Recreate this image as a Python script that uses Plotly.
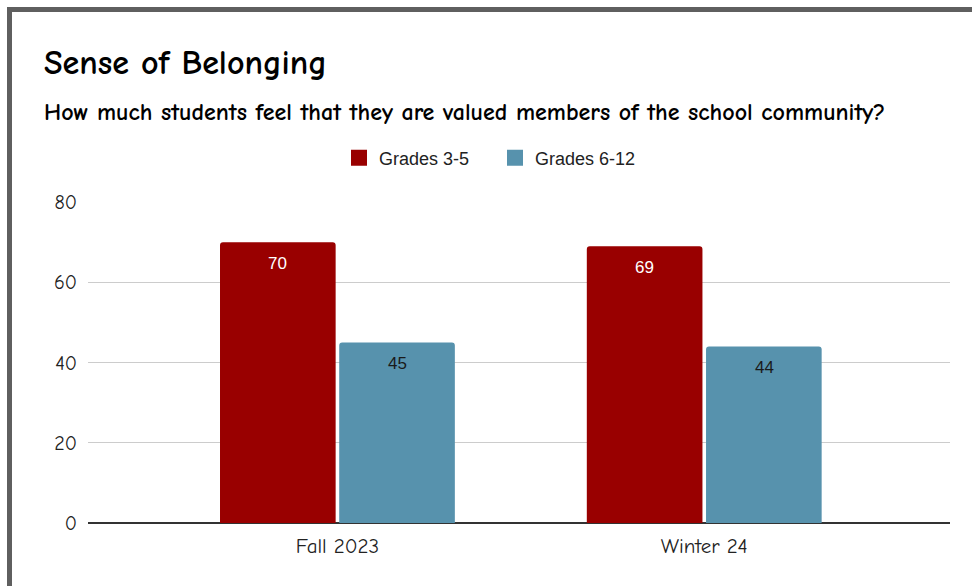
import plotly.graph_objects as go

categories = ["Fall 2023", "Winter 24"]
series_names = ["Grades 3-5", "Grades 6-12"]
grades_3_5 = [70, 69]
grades_6_12 = [45, 44]
colors = ["#990000", "#5792ad"]
label_colors = ["#ffffff", "#1a1a1a"]

title_text = "Sense of Belonging"
subtitle_text = "How much students feel that they are valued members of the school community?"

W, H = 972, 586
L, R, T, B = 88, 22, 202, 63
pw, ph = W - L - R, H - T - B

def px_x(x):
    return (x - L) / pw

def px_y(y):
    return (H - B - y) / ph

comic = "Comic Sans MS, Comic Neue, DejaVu Sans, sans-serif"
arial = "Arial, Liberation Sans, sans-serif"

fig = go.Figure()
annotations = []
label_shift = [-60, 60]
for i, (name, vals, c, lc) in enumerate(zip(series_names, [grades_3_5, grades_6_12], colors, label_colors)):
    fig.add_trace(go.Bar(
        name=name, x=categories, y=vals, marker=dict(color=c, line=dict(width=0)),
        showlegend=False, legendgroup=name,
    ))
    # legend entry with a larger square swatch
    fig.add_trace(go.Scatter(
        name=name, x=[None], y=[None], mode="markers", legendgroup=name,
        marker=dict(symbol="square", size=20, color=c), showlegend=True,
    ))
    for cat, v in zip(categories, vals):
        annotations.append(dict(
            x=cat, y=v, xref="x", yref="y", text=str(v), showarrow=False,
            xshift=label_shift[i], yshift=-21, yanchor="middle", xanchor="center",
            font=dict(family=arial, size=17, color=lc),
        ))

annotations += [
    dict(text="<b>" + title_text + "</b>", xref="paper", yref="paper", x=px_x(42), y=px_y(63),
         xanchor="left", yanchor="middle", showarrow=False,
         font=dict(family=comic, size=34, color="#000000")),
    dict(text="<b>" + subtitle_text + "</b>", xref="paper", yref="paper", x=px_x(42), y=px_y(112),
         xanchor="left", yanchor="middle", showarrow=False,
         font=dict(family=comic, size=24, color="#000000")),
]

fig.update_layout(
    width=W, height=H,
    margin=dict(l=L, r=R, t=T, b=B),
    paper_bgcolor="white", plot_bgcolor="white",
    barmode="group", bargap=0.35, bargroupgap=0.03, barcornerradius=3,
    showlegend=True,
    legend=dict(orientation="h", x=px_x(339), xanchor="left", y=px_y(158), yanchor="middle",
                font=dict(family=arial, size=18, color="#222222"),
                entrywidth=111, entrywidthmode="pixels", itemsizing="trace",
                bgcolor="rgba(0,0,0,0)"),
    xaxis=dict(range=[-0.68, 1.67], showgrid=False, ticks="", showline=False,
               tickfont=dict(family=comic, size=21, color="#222222"), fixedrange=True,
               ticklabelstandoff=8),
    yaxis=dict(range=[0, 80], dtick=20, showgrid=True, gridcolor="#cccccc", gridwidth=1,
               zeroline=True, zerolinecolor="#333333", zerolinewidth=1.5,
               tickfont=dict(family=comic, size=20, color="#222222"), ticks="",
               ticklabelstandoff=10),
    shapes=[dict(type="rect", xref="paper", yref="paper",
                 x0=px_x(9.5), x1=px_x(990), y0=px_y(600), y1=px_y(9.5),
                 line=dict(color="#5f5f5f", width=5), fillcolor="rgba(0,0,0,0)", layer="above")],
    annotations=annotations,
)

fig.write_html("out.html", config={"displayModeBar": False},
               post_script="document.body.style.margin='0';")
